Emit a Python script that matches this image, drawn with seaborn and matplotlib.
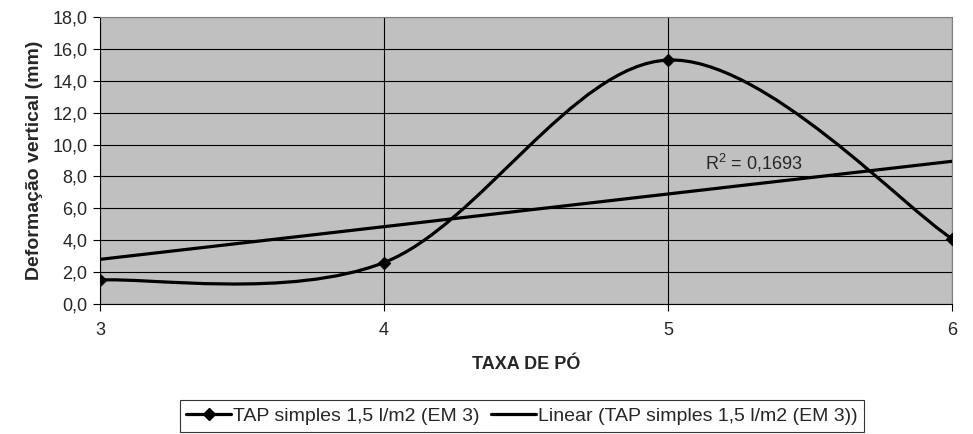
import numpy as np
import pandas as pd
import matplotlib
matplotlib.use('Agg')
import matplotlib.pyplot as plt
from matplotlib.path import Path
from matplotlib.patches import PathPatch
from matplotlib.lines import Line2D
import seaborn as sns

# Dados
taxa = [3, 4, 5, 6]
deformacao = [1.5, 2.6, 15.3, 4.1]
serie = 'TAP simples 1,5 l/m2 (EM 3)'
r2_label = '0,1693'
y_ticks = [0, 2, 4, 6, 8, 10, 12, 14, 16, 18]

df = pd.DataFrame({'Taxa': taxa, 'Deformacao': deformacao})

sns.set_theme(style='ticks')
plt.rcParams['font.family'] = ['Liberation Sans', 'DejaVu Sans']

fig = plt.figure(figsize=(9.73, 4.34), dpi=100)
ax = fig.add_axes([100 / 973, 130 / 434, 852 / 973, 287 / 434])
ax.set_facecolor('#c0c0c0')

# Curva suavizada (estilo Excel: Catmull-Rom -> Bezier)
pts = np.column_stack([df['Taxa'], df['Deformacao']]).astype(float)
verts = [pts[0]]
codes = [Path.MOVETO]
n = len(pts)
for i in range(n - 1):
    p0 = pts[i - 1] if i > 0 else pts[i]
    p1, p2 = pts[i], pts[i + 1]
    p3 = pts[i + 2] if i + 2 < n else pts[i + 1]
    verts += [p1 + (p2 - p0) / 6, p2 - (p3 - p1) / 6, p2]
    codes += [Path.CURVE4] * 3
ax.add_patch(PathPatch(Path(verts, codes), facecolor='none', edgecolor='black',
                       lw=2.3, zorder=3, capstyle='round', joinstyle='round'))

sns.scatterplot(data=df, x='Taxa', y='Deformacao', marker='D', s=42,
                color='black', edgecolor='black', zorder=4, ax=ax, legend=False)

# Linha de tendência linear
sns.regplot(data=df, x='Taxa', y='Deformacao', ci=None, scatter=False,
            line_kws={'color': 'black', 'lw': 2.3, 'zorder': 3}, ax=ax)

ax.text(5.13, 8.85, '$\\mathregular{R^2}$ = ' + r2_label,
        fontsize=13, ha='left', va='center', zorder=5)

ax.set_xlim(3, 6)
ax.set_ylim(0, 18)
ax.set_xticks(taxa)
ax.set_yticks(y_ticks)
ax.set_yticklabels([f'{v:.1f}'.replace('.', ',') for v in y_ticks])
ax.tick_params(labelsize=13, length=5, width=0.8, color='black')
ax.tick_params(axis='x', pad=8)
ax.tick_params(axis='y', pad=4)
ax.grid(True, color='black', lw=0.8)
ax.set_axisbelow(True)
for s in ['top', 'right']:
    ax.spines[s].set_color('#808080')
    ax.spines[s].set_linewidth(0.8)
for s in ['left', 'bottom']:
    ax.spines[s].set_color('black')
    ax.spines[s].set_linewidth(0.8)

ax.set_xlabel('TAXA DE PÓ', fontsize=13, fontweight='bold', labelpad=12)
ax.set_ylabel('Deformação vertical (mm)', fontsize=14, fontweight='bold', labelpad=7)

handles = [
    Line2D([], [], color='black', lw=2.3, marker='D', markersize=6),
    Line2D([], [], color='black', lw=2.3),
]
leg = fig.legend(handles, [serie, f'Linear ({serie})'], loc='center',
                 bbox_to_anchor=(522 / 973, 1 - 416 / 434), ncol=2, fontsize=14,
                 frameon=True, fancybox=False, edgecolor='black', handlelength=2.3,
                 handletextpad=0.1, columnspacing=0.6, borderpad=0.35)
leg.get_frame().set_linewidth(0.8)

fig.savefig('out.png', dpi=100)
